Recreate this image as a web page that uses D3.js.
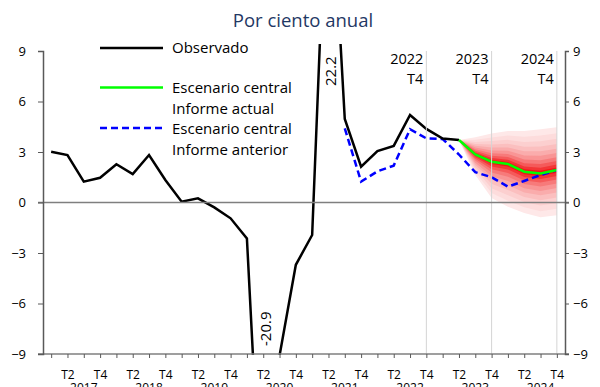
<!DOCTYPE html>
<html>
<head>
<meta charset="utf-8">
<script src="https://cdn.jsdelivr.net/npm/d3@7"></script>
<style>
  html, body { margin: 0; padding: 0; background: #fff; }
  svg { display: block; }
  text { font-family: "Open Sans", "DejaVu Sans", sans-serif; }
</style>
</head>
<body>
<svg id="chart" width="600" height="387"></svg>
<script>
// ---------------- data ----------------
const years = [2017, 2018, 2019, 2020, 2021, 2022, 2023, 2024];
const quarters = ["T1", "T2", "T3", "T4"];
const categories = years.flatMap(y => quarters.map(q => `${y} ${q}`));

// Observed, 2017 T1 .. 2023 T2
const observed = [3.02, 2.82, 1.24, 1.47, 2.27, 1.69, 2.82, 1.34,
                  0.05, 0.25, -0.29, -0.94, -2.13, -20.9, -9.1, -3.7,
                  -1.93, 22.2, 4.96, 2.13, 3.06, 3.36, 5.2, 4.37,
                  3.8, 3.71];
// Central scenario, current report: 2023 T2 .. 2024 T4
const centralCurrentStart = "2023 T2";
const centralCurrent = [3.71, 2.86, 2.42, 2.29, 1.83, 1.73, 1.93];
// Central scenario, previous report: 2021 T3 .. 2024 T4
const centralPreviousStart = "2021 T3";
const centralPrevious = [4.4, 1.24, 1.85, 2.19, 4.35, 3.81, 3.77, 2.85,
                         1.8, 1.5, 0.94, 1.28, 1.63, 1.93];
// Fan chart outer bounds: 2023 T2 .. 2024 T4
const fanUpper = [3.71, 3.87, 4.1, 4.25, 4.25, 4.35, 4.47];
const fanLower = [3.71, 1.63, 0.27, -0.25, -0.63, -0.88, -0.75];
// Share of the outer interval covered by each band (outer to inner)
const bandShares = [1.0, 0.86, 0.73, 0.61, 0.5, 0.4, 0.3, 0.21, 0.13, 0.06];
const bandColors = ["#fee8e8", "#fddcdc", "#fccfcf", "#fbbfbf", "#faacac",
                    "#f99595", "#f77a7a", "#f55a5a", "#f33636", "#f21414"];

const yTicks = [-9, -6, -3, 0, 3, 6, 9];
const markerQuarters = ["2022 T4", "2023 T4", "2024 T4"];
const labels = {
  title: "Por ciento anual",
  observed: "Observado",
  current: ["Escenario central", "Informe actual"],
  previous: ["Escenario central", "Informe anterior"]
};
const offScaleLabels = [{ q: "2020 T2", text: "-20.9", y: -7.5 },
                        { q: "2021 T2", text: "22.2", y: 7.8 }];

// ---------------- chart ----------------
const svg = d3.select("#chart");
const pLeft = 43, pRight = 565, pTop = 51, pBottom = 354;

const x = d3.scalePoint().domain(categories).range([pLeft, pRight]).padding(0.5);
const y = d3.scaleLinear().domain([-9, 9]).range([pBottom, pTop]);

const idx = q => categories.indexOf(q);

// title
svg.append("text").attr("x", 303).attr("y", 27).attr("text-anchor", "middle")
  .attr("font-size", 18.5).attr("fill", "#1f3864").text(labels.title);

// clip
svg.append("clipPath").attr("id", "plotclip").append("rect")
  .attr("x", pLeft).attr("y", 44).attr("width", pRight - pLeft).attr("height", pBottom - 44 + 1);

const plot = svg.append("g").attr("clip-path", "url(#plotclip)");

// fan chart
const fanCats = categories.slice(idx(centralCurrentStart), idx(centralCurrentStart) + centralCurrent.length);
bandShares.forEach((s, b) => {
  const area = d3.area()
    .x((d, i) => x(fanCats[i]))
    .y0((d, i) => y(centralCurrent[i] - s * (centralCurrent[i] - fanLower[i])))
    .y1((d, i) => y(centralCurrent[i] + s * (fanUpper[i] - centralCurrent[i])));
  plot.append("path").datum(centralCurrent).attr("d", area)
    .attr("fill", bandColors[b]).attr("stroke", "none");
});

// vertical marker lines
markerQuarters.forEach(q => {
  svg.append("line").attr("x1", x(q)).attr("x2", x(q)).attr("y1", y(9)).attr("y2", y(-9))
    .attr("stroke", "#d4d4d4").attr("stroke-width", 1);
  const [yrs, tq] = q.split(" ");
  svg.append("text").attr("x", x(q) - 3).attr("y", 64).attr("text-anchor", "end")
    .attr("font-size", 14.5).attr("fill", "#000").text(yrs);
  svg.append("text").attr("x", x(q) - 3).attr("y", 84).attr("text-anchor", "end")
    .attr("font-size", 14.5).attr("fill", "#000").text(tq);
});

// zero line and bottom line
svg.append("line").attr("x1", pLeft - 5).attr("x2", pRight + 4).attr("y1", y(0)).attr("y2", y(0))
  .attr("stroke", "#7f7f7f").attr("stroke-width", 1.5);
svg.append("line").attr("x1", pLeft - 5).attr("x2", pRight + 4).attr("y1", y(-9)).attr("y2", y(-9))
  .attr("stroke", "#7f7f7f").attr("stroke-width", 1.5);

// lines
const line = d3.line().x(d => x(d.q)).y(d => y(d.v));
const obsData = observed.map((v, i) => ({ q: categories[i], v }));
const curData = centralCurrent.map((v, i) => ({ q: categories[idx(centralCurrentStart) + i], v }));
const prevData = centralPrevious.map((v, i) => ({ q: categories[idx(centralPreviousStart) + i], v }));

plot.append("path").datum(prevData).attr("d", line).attr("fill", "none")
  .attr("stroke", "#0000ff").attr("stroke-width", 2.5).attr("stroke-dasharray", "7,4");
plot.append("path").datum(obsData).attr("d", line).attr("fill", "none")
  .attr("stroke", "#000").attr("stroke-width", 2.5).attr("stroke-linejoin", "miter");
plot.append("path").datum(curData).attr("d", line).attr("fill", "none")
  .attr("stroke", "#00ff00").attr("stroke-width", 2.5);

// off-scale labels
offScaleLabels.forEach(l => {
  const cx = x(l.q) + 2, cy = y(l.y);
  svg.append("text").attr("transform", `translate(${cx},${cy}) rotate(-90)`)
    .attr("text-anchor", "middle").attr("dominant-baseline", "central")
    .attr("font-size", 15).attr("fill", "#000").text(l.text);
});

// axes
const yl = svg.append("g").attr("transform", `translate(${pLeft},0)`)
  .call(d3.axisLeft(y).tickValues(yTicks).tickSize(5).tickPadding(12).tickFormat(d3.format("d")));
const yrAxis = svg.append("g").attr("transform", `translate(${pRight},0)`)
  .call(d3.axisRight(y).tickValues(yTicks).tickSize(4).tickPadding(4).tickFormat(d3.format("d")));
[yl, yrAxis].forEach(g => {
  g.select(".domain").attr("stroke", "#595959").attr("stroke-width", 1.5);
  g.selectAll(".tick line").attr("stroke", "#595959");
  g.selectAll(".tick text").attr("font-size", 13).attr("fill", "#000")
    .attr("font-family", '"Open Sans", sans-serif');
});

const xa = svg.append("g").attr("transform", `translate(0,${pBottom})`)
  .call(d3.axisBottom(x).tickSize(4).tickPadding(12)
    .tickFormat(d => { const q = d.split(" ")[1]; return (q === "T2" || q === "T4") ? q : ""; }));
xa.select(".domain").remove();
xa.selectAll(".tick line").attr("stroke", "#595959");
xa.selectAll(".tick text").attr("font-size", 12).attr("fill", "#000")
  .attr("font-family", '"Open Sans", sans-serif');

// year labels (partly below the picture edge, as in the source)
years.forEach(yv => {
  svg.append("text").attr("x", x(`${yv} T3`)).attr("y", 392).attr("text-anchor", "middle")
    .attr("font-size", 12).attr("fill", "#000").text(yv);
});

// legend
const lg = svg.append("g");
const legendX1 = 100, legendX2 = 163, textX = 172;
lg.append("line").attr("x1", legendX1).attr("x2", legendX2).attr("y1", 48).attr("y2", 48)
  .attr("stroke", "#000").attr("stroke-width", 2.5);
lg.append("text").attr("x", textX).attr("y", 53).attr("font-size", 15).text(labels.observed);
lg.append("line").attr("x1", legendX1).attr("x2", legendX2).attr("y1", 87.5).attr("y2", 87.5)
  .attr("stroke", "#00ff00").attr("stroke-width", 2.5);
lg.append("text").attr("x", textX).attr("y", 93).attr("font-size", 15).text(labels.current[0]);
lg.append("text").attr("x", textX).attr("y", 114).attr("font-size", 15).text(labels.current[1]);
lg.append("line").attr("x1", legendX1).attr("x2", legendX2).attr("y1", 128).attr("y2", 128)
  .attr("stroke", "#0000ff").attr("stroke-width", 2.5).attr("stroke-dasharray", "7,4");
lg.append("text").attr("x", textX).attr("y", 134).attr("font-size", 15).text(labels.previous[0]);
lg.append("text").attr("x", textX).attr("y", 155).attr("font-size", 15).text(labels.previous[1]);
</script>
</body>
</html>
